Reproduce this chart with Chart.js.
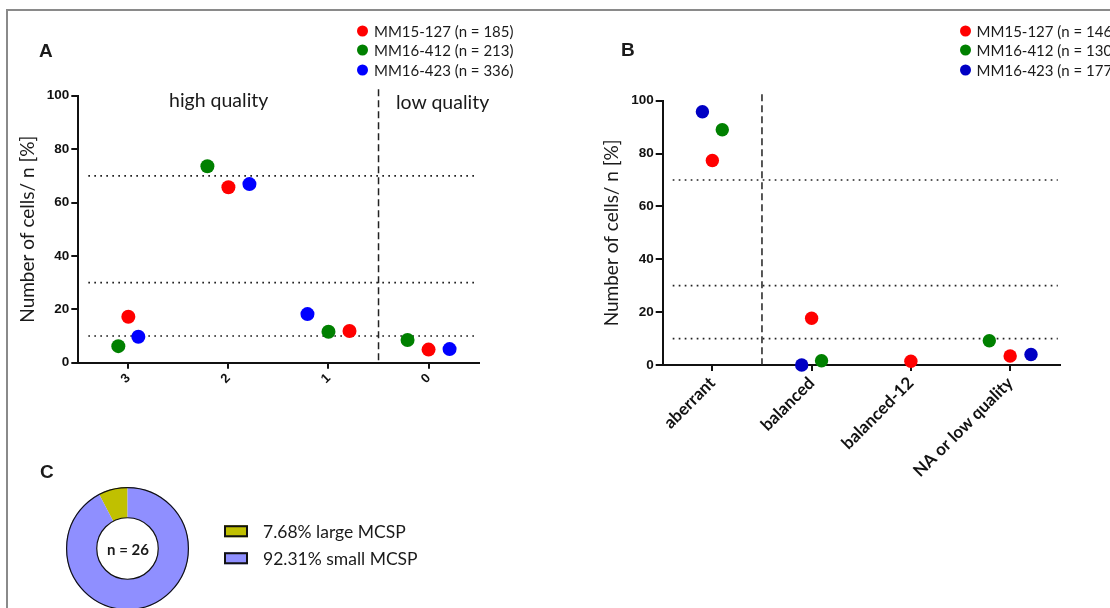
<!DOCTYPE html>
<html>
<head>
<meta charset="utf-8">
<script src="https://cdn.jsdelivr.net/npm/chart.js@4.4.1/dist/chart.umd.min.js"></script>
<style>
  body { margin: 0; width: 1110px; height: 608px; overflow: hidden; background: #fff; position: relative; font-family: Lato, sans-serif; color: #1a1a1a; }
  .frame { position: absolute; left: 6px; top: 9px; width: 1300px; height: 800px; border: 2px solid #8a8a8a; }
  canvas { position: absolute; }
  .txt { position: absolute; white-space: nowrap; line-height: 1; transform: translateY(-50%); }
  .letter { font-family: "Liberation Sans", Arial, sans-serif; font-weight: bold; font-size: 19px; }
  .note { font-size: 19.5px; }
  .legrow { position: absolute; white-space: nowrap; font-size: 15px; line-height: 1; transform: translateY(-50%); display: flex; align-items: center; }
  .dot { display: inline-block; width: 11px; height: 11px; border-radius: 50%; margin-right: 6px; }
  .box { display: inline-block; width: 20px; height: 8px; border: 2px solid #111; margin-right: 15px; }
  .legC { font-size: 17.5px; }
</style>
</head>
<body>
<div class="frame"></div>

<canvas id="chartA" width="560" height="440" style="left:0;top:0"></canvas>
<canvas id="chartB" width="550" height="490" style="left:560px;top:0"></canvas>
<canvas id="chartC" width="123" height="123" style="left:66px;top:487px"></canvas>

<div class="txt letter" style="left:39px;top:50px">A</div>
<div class="txt letter" style="left:621px;top:49px">B</div>
<div class="txt letter" style="left:40px;top:471px">C</div>
<div class="txt note" style="left:169px;top:100px">high quality</div>
<div class="txt note" style="left:396px;top:102px">low quality</div>
<div class="txt" id="nLabel" style="left:128px;top:549px;transform:translate(-50%,-50%);font-weight:bold;font-size:15px"></div>

<div id="legendA"></div>
<div id="legendB"></div>
<div id="legendC"></div>

<script>
// categories
const qualityCats = ['3', '2', '1', '0'];
const classCats = ['aberrant', 'balanced', 'balanced-12', 'NA or low quality'];
const sampleNames = ['MM15-127', 'MM16-412', 'MM16-423'];
const countsA = [185, 213, 336];
const countsB = [146, 130, 177];

// panel A - % of cells per quality score
const mm15A = [17.2, 65.7, 11.9, 4.9];
const mm16_412A = [6.2, 73.6, 11.6, 8.5];
const mm16_423A = [9.7, 66.9, 18.2, 5.1];
const jitterA = [[0, 0, 0.21, 0], [-0.1, -0.21, 0, -0.21], [0.1, 0.21, -0.21, 0.21]];

// panel B - % of cells per class
const mm15B = [77.4, 17.7, 1.4, 3.4];
const mm16_412B = [89.0, 1.6, null, 9.2];
const mm16_423B = [95.8, 0, null, 4.0];
const jitterB = [[0, 0, 0, 0], [0.1, 0.1, 0, -0.21], [-0.1, -0.1, 0, 0.21]];

const cutoffs = [70, 30, 10];

// panel C
const sizeLabels = ['large MCSP', 'small MCSP'];
const sizeValues = [7.68, 92.31];
const nCells = 26;

const colorsA = ['#ff0000', '#008000', '#0000ff'];
const colorsB = ['#ff0000', '#008000', '#0000c4'];
const colorsC = ['#c0c000', '#8f8fff'];


const refLines = {
  id: 'refLines',
  beforeDatasetsDraw(chart, args, opts) {
    const { ctx, chartArea, scales } = chart;
    ctx.save();
    ctx.strokeStyle = '#222';
    ctx.lineWidth = 1.7;
    ctx.setLineDash([1.7, 4.3]);
    opts.levels.forEach(v => {
      const y = scales.y.getPixelForValue(v);
      ctx.beginPath();
      ctx.moveTo(chartArea.left + 10, y);
      ctx.lineTo(chartArea.right - 2, y);
      ctx.stroke();
    });
    const x = scales.x.getPixelForValue(opts.split);
    ctx.lineWidth = 1.5;
    ctx.setLineDash([7, 4]);
    ctx.beginPath();
    ctx.moveTo(x, chartArea.top - 6.5);
    ctx.lineTo(x, chartArea.bottom);
    ctx.stroke();
    ctx.restore();
  }
};

function makePoints(values, jitter) {
  const pts = [];
  values.forEach((v, i) => {
    if (v !== null) pts.push({ x: i + jitter[i], y: v });
  });
  return pts;
}

function makeDatasets(series, jitters, colors, radius) {
  return series.map((vals, k) => ({
    label: sampleNames[k],
    data: makePoints(vals, jitters[k]),
    backgroundColor: colors[k],
    borderWidth: 0,
    pointRadius: radius,
    pointHoverRadius: radius,
    clip: false
  }));
}

function scatterOptions(cats, tickFont, padding, xHeight) {
  return {
    responsive: false,
    animation: false,
    layout: { padding: padding },
    plugins: {
      legend: { display: false },
      tooltip: { enabled: false },
      refLines: { levels: cutoffs, split: 2.5 }
    },
    scales: {
      x: {
        type: 'linear',
        min: -0.5,
        max: cats.length - 0.5,
        afterBuildTicks: scale => { scale.ticks = cats.map((c, i) => ({ value: i })); },
        afterFit: scale => { scale.height = xHeight; },
        ticks: {
          callback: v => cats[v],
          minRotation: 45,
          maxRotation: 45,
          autoSkip: false,
          color: '#111',
          padding: 2,
          font: tickFont
        },
        grid: { drawOnChartArea: false, tickLength: 6, color: '#111', lineWidth: 2 },
        border: { color: '#111', width: 2 }
      },
      y: {
        min: 0,
        max: 100,
        afterFit: scale => { scale.width = 78.3; },
        ticks: {
          stepSize: 20,
          color: '#111',
          padding: 2,
          font: { family: 'Liberation Sans', weight: 'bold', size: 13.5 }
        },
        grid: { drawOnChartArea: false, tickLength: 7, color: '#111', lineWidth: 2 },
        border: { color: '#111', width: 2 },
        title: {
          display: true,
          text: 'Number of cells/ n [%]',
          color: '#1a1a1a',
          font: { family: 'Lato', size: 19 },
          padding: { top: 16 }
        }
      }
    }
  };
}

function buildLegend(id, counts, colors, left, top) {
  const box = document.getElementById(id);
  sampleNames.forEach((name, i) => {
    const row = document.createElement('div');
    row.className = 'legrow';
    row.style.left = left + 'px';
    row.style.top = (top + i * 19.7) + 'px';
    row.innerHTML = '<span class="dot" style="background:' + colors[i] + '"></span>' + name + ' (n = ' + counts[i] + ')';
    box.appendChild(row);
  });
}


function loadChartA() {
  const ctx = document.getElementById('chartA').getContext('2d');
  const opts = scatterOptions(qualityCats, { family: 'Liberation Sans', weight: 'bold', size: 13 },
    { left: 0, top: 95.7, right: 81.4, bottom: 0 }, 77.3);
  opts.plugins.refLines.split = 2.5;
  new Chart(ctx, {
    type: 'scatter',
    data: { datasets: makeDatasets([mm15A, mm16_412A, mm16_423A], jitterA, colorsA, 7) },
    options: opts,
    plugins: [refLines]
  });
  buildLegend('legendA', countsA, colorsA, 357, 30.7);
}

function loadChartB() {
  const ctx = document.getElementById('chartB').getContext('2d');
  const opts = scatterOptions(classCats, { family: 'Lato', weight: 'bold', size: 17 },
    { left: 24.4, top: 100.7, right: 50.2, bottom: 0 }, 125);
  opts.plugins.refLines.split = 0.5;
  new Chart(ctx, {
    type: 'scatter',
    data: { datasets: makeDatasets([mm15B, mm16_412B, mm16_423B], jitterB, colorsB, 6.7) },
    options: opts,
    plugins: [refLines]
  });
  buildLegend('legendB', countsB, colorsB, 959.6, 30.7);
}

// doughnut
const ringOutline = {
  id: 'ringOutline',
  afterDatasetsDraw(chart) {
    const arc = chart.getDatasetMeta(0).data[0];
    const { x, y, innerRadius, outerRadius } = arc.getProps(['x', 'y', 'innerRadius', 'outerRadius'], true);
    const ctx = chart.ctx;
    ctx.save();
    ctx.strokeStyle = '#111';
    ctx.lineWidth = 1.2;
    [outerRadius - 0.6, innerRadius].forEach(r => {
      ctx.beginPath();
      ctx.arc(x, y, r, 0, Math.PI * 2);
      ctx.stroke();
    });
    ctx.restore();
  }
};

function loadChartC() {
  const ctx = document.getElementById('chartC').getContext('2d');
  const total = sizeValues.reduce((a, b) => a + b, 0);
  new Chart(ctx, {
    type: 'doughnut',
    data: {
      labels: sizeLabels,
      datasets: [{
        data: sizeValues,
        backgroundColor: colorsC,
        borderWidth: 0
      }]
    },
    options: {
      responsive: false,
      animation: false,
      cutout: '50%',
      rotation: -sizeValues[0] / total * 360,
      layout: { padding: 0 },
      plugins: { legend: { display: false }, tooltip: { enabled: false } }
    },
    plugins: [ringOutline]
  });

  document.getElementById('nLabel').textContent = 'n = ' + nCells;
  const leg = document.getElementById('legendC');
  sizeLabels.forEach((name, i) => {
    const row = document.createElement('div');
    row.className = 'legrow legC';
    row.style.left = '224px';
    row.style.top = (531.7 + i * 27) + 'px';
    row.innerHTML = '<span class="box" style="background:' + colorsC[i] + '"></span>' + sizeValues[i].toFixed(2) + '% ' + name;
    leg.appendChild(row);
  });
}

window.addEventListener('DOMContentLoaded', function () {
  loadChartA();
  loadChartB();
  loadChartC();
});
</script>
</body>
</html>
